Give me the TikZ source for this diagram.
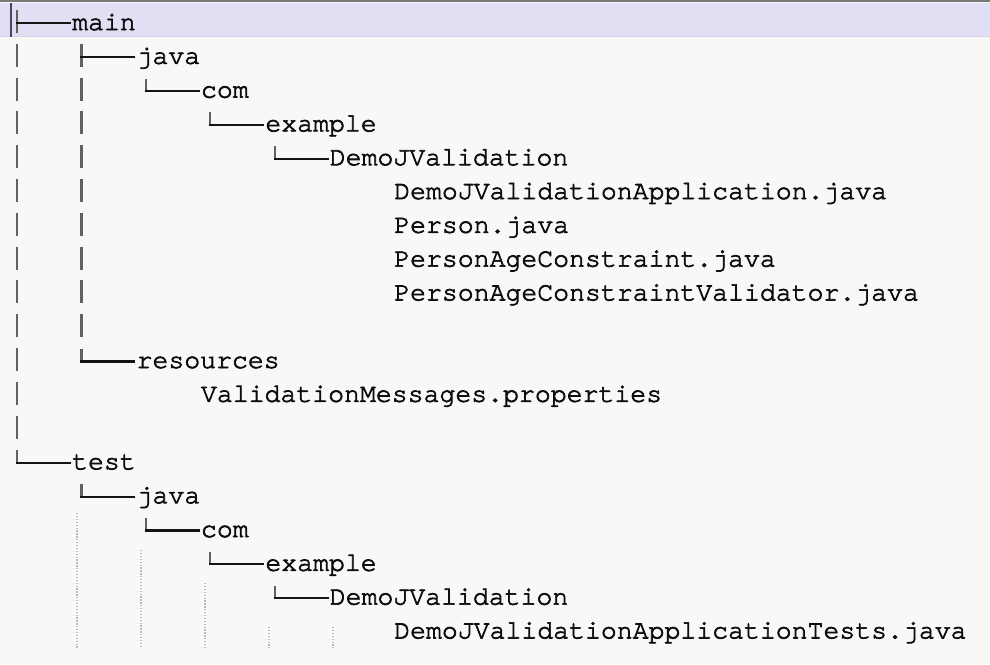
\documentclass[tikz,border=0pt]{standalone}
\usepackage{fontspec}
\usetikzlibrary{calc}
\newfontfamily\treefont[FakeBold=2.6]{TeX Gyre Cursor}
\definecolor{bgc}{HTML}{F8F8F6}
\definecolor{bandc}{HTML}{E1DFF3}
\definecolor{bandedge}{HTML}{D6D4E6}
\definecolor{topc}{HTML}{7A7A7A}
\definecolor{cursc}{HTML}{4A4660}
\tikzset{
  fname/.style={inner sep=0pt, anchor=base west, text=black!95,
    font=\treefont\fontsize{26.5}{30}\selectfont},
  hbar/.style={line width=2.3pt, draw=black!92},
  vbar/.style={line width=2.2pt, draw=black!62},
  guide/.style={draw=black!28, line width=1.3pt, dash pattern=on 1.3pt off 1.6pt},
}
\newcommand\elbow[2]{%
  \draw[vbar] ($(#1.base west)+(-#2,-19)$) -- ($(#1.base west)+(-#2,-5.5)$);
  \draw[hbar] ($(#1.base west)+(-#2-1.1,-6.5)$) -- ($(#1.base west)+(-1,-6.5)$);}
\newcommand\teeline[2]{%
  \draw[vbar] ($(#1.base west)+(-#2,-20)$) -- ($(#1.base west)+(-#2,3)$);
  \draw[hbar] ($(#1.base west)+(-#2-1.1,-7)$) -- ($(#1.base west)+(-1,-7)$);}
\newcommand\barseg[2]{\draw[vbar] (#1,#2-20) -- (#1,#2+3);}
\begin{document}
\begin{tikzpicture}[x=1pt,y=-1pt]
\useasboundingbox (0,0) rectangle (990,664);
\fill[bgc] (0,0) rectangle (990,664);
% current-line band and top border
\fill[bandc] (0,2.5) rectangle (990,36.5);
\draw[bandedge, line width=1pt] (0,36.5) -- (990,36.5);
\fill[topc] (0,0) rectangle (990,2.2);
\draw[cursc, line width=2pt] (11,3) -- (11,37);

% text nodes
\node[fname] (main)  at (72,30)     {main};
\node[fname] (java1) at (136.4,63.8) {java};
\node[fname] (com1)  at (200.8,97.6) {com};
\node[fname] (ex1)   at (265.2,131.4) {example};
\node[fname] (demo1) at (329.6,165.2) {DemoJValidation};
\node[fname] (f1)    at (394,199)   {DemoJValidationApplication.java};
\node[fname] (f2)    at (394,232.8) {Person.java};
\node[fname] (f3)    at (394,266.6) {PersonAgeConstraint.java};
\node[fname] (f4)    at (394,300.4) {PersonAgeConstraintValidator.java};
\node[fname] (res)   at (136.4,368) {resources};
\node[fname] (vm)    at (200.8,401.8) {ValidationMessages.properties};
\node[fname] (test)  at (72,469.4)  {test};
\node[fname] (java2) at (136.4,503.2) {java};
\node[fname] (com2)  at (200.8,537) {com};
\node[fname] (ex2)   at (265.2,570.8) {example};
\node[fname] (demo2) at (329.6,604.6) {DemoJValidation};
\node[fname] (t1)    at (394,638.4) {DemoJValidationApplicationTests.java};

% tree connectors
\teeline{main}{55}
\teeline{java1}{55}
\elbow{com1}{55}
\elbow{ex1}{55}
\elbow{demo1}{55}
\elbow{res}{55}
\elbow{test}{55}
\elbow{java2}{55}
\elbow{com2}{55}
\elbow{ex2}{55}
\elbow{demo2}{55}

% continuation bars at x=17 (lines 1..12)
\foreach \b in {63.8,97.6,131.4,165.2,199,232.8,266.6,300.4,334.2,368,401.8,435.6}{\barseg{17}{\b}}
% continuation bars at x=81.4 (lines 2..9)
\foreach \b in {97.6,131.4,165.2,199,232.8,266.6,300.4,334.2}{\barseg{81.4}{\b}}

% indent guides in the test section
\draw[guide] (77,513) -- (77,648);
\draw[guide] (141,550) -- (141,648);
\draw[guide] (205,583) -- (205,648);
\draw[guide] (269,627) -- (269,648);
\draw[guide] (333,627) -- (333,648);
\end{tikzpicture}
\end{document}
